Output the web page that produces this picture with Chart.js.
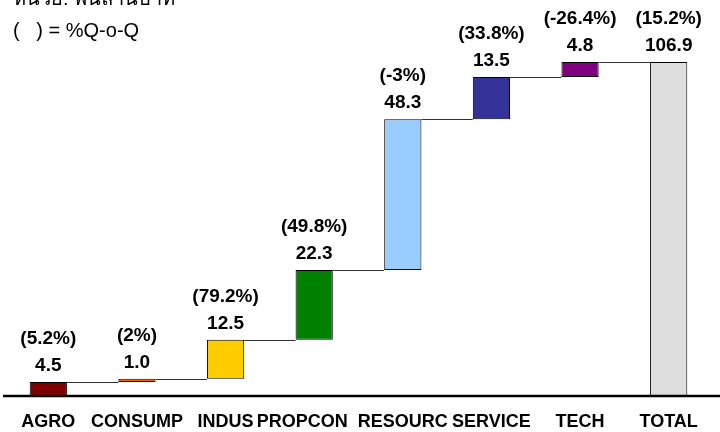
<!DOCTYPE html>
<html>
<head>
<meta charset="utf-8">
<script src="https://cdn.jsdelivr.net/npm/chart.js@4"></script>
<style>
  html, body { margin: 0; padding: 0; background: #fff; }
  #wrap { position: relative; width: 720px; height: 432px; }
</style>
</head>
<body>
<div id="wrap"><canvas id="waterfall" width="720" height="432"></canvas></div>
<script>
const categories = ['AGRO', 'CONSUMP', 'INDUS', 'PROPCON', 'RESOURC', 'SERVICE', 'TECH', 'TOTAL'];
const values = [4.5, 1.0, 12.5, 22.3, 48.3, 13.5, 4.8, 106.9];
const qoqLabels = ['(5.2%)', '(2%)', '(79.2%)', '(49.8%)', '(-3%)', '(33.8%)', '(-26.4%)', '(15.2%)'];
const barColors = ['#800000', '#FF6600', '#FFCC00', '#008000', '#99CCFF', '#333399', '#800080', '#DDDDDD'];

// floating bars: each step starts where the previous one ended, total starts at 0
const ranges = [];
let running = 0;
values.forEach(function (v, i) {
    if (i === values.length - 1) {
        ranges.push([0, v]);
    } else {
        ranges.push([running, running + v]);
        running += v;
    }
});

const valueFont = 'bold 19px "Liberation Sans", Arial, sans-serif';
const catFont = 'bold 18px "Liberation Sans", Arial, sans-serif';

const waterfallDecor = {
    id: 'waterfallDecor',
    afterDatasetsDraw(chart) {
        const ctx = chart.ctx;
        const x = chart.scales.x;
        const y = chart.scales.y;
        const meta = chart.getDatasetMeta(0);
        ctx.save();

        // connector lines between steps
        ctx.strokeStyle = '#333';
        ctx.lineWidth = 1;
        for (let i = 0; i < meta.data.length - 1; i++) {
            const a = meta.data[i];
            const b = meta.data[i + 1];
            const level = Math.round(y.getPixelForValue(ranges[i][1])) + 0.5;
            ctx.beginPath();
            ctx.moveTo(a.x + a.width / 2, level);
            ctx.lineTo(b.x - b.width / 2, level);
            ctx.stroke();
        }

        // baseline
        const base = y.getPixelForValue(0);
        ctx.strokeStyle = '#000';
        ctx.lineWidth = 2.5;
        ctx.beginPath();
        ctx.moveTo(3, base);
        ctx.lineTo(720, base);
        ctx.stroke();

        // value + %Q-o-Q labels
        ctx.fillStyle = '#000';
        ctx.font = valueFont;
        ctx.textAlign = 'center';
        ctx.textBaseline = 'middle';
        meta.data.forEach(function (bar, i) {
            const top = y.getPixelForValue(ranges[i][1]);
            ctx.fillText(values[i].toFixed(1), bar.x, top - 16);
            ctx.fillText(qoqLabels[i], bar.x, top - 43);
        });

        // category labels, nudged left when they would run into the next one
        ctx.font = catFont;
        categories.forEach(function (c, i) {
            let cx = x.getPixelForValue(i);
            const w = ctx.measureText(c).width;
            if (i < categories.length - 1) {
                const nx = x.getPixelForValue(i + 1);
                const nw = ctx.measureText(categories[i + 1]).width;
                const gap = (nx - nw / 2) - (cx + w / 2);
                if (gap < 2) cx -= 10 - gap;
            }
            ctx.fillText(c, cx, base + 26);
        });

        // header notes
        ctx.textAlign = 'left';
        ctx.textBaseline = 'alphabetic';
        ctx.font = '20px "Liberation Sans", Arial, sans-serif';
        ctx.fillText('หน่วย: พันล้านบาท', 13, 5);
        ctx.fillText('(   ) = %Q-o-Q', 13, 37);
        ctx.restore();
    }
};

new Chart(document.getElementById('waterfall').getContext('2d'), {
    type: 'bar',
    data: {
        labels: categories,
        datasets: [{
            data: ranges,
            backgroundColor: barColors,
            borderColor: '#000',
            borderWidth: 1,
            borderSkipped: false,
            categoryPercentage: 1,
            barPercentage: 0.42
        }]
    },
    options: {
        responsive: false,
        animation: false,
        layout: { padding: { left: 4, right: 7, top: 21, bottom: 36 } },
        plugins: {
            legend: { display: false },
            tooltip: { enabled: false }
        },
        scales: {
            x: { display: false },
            y: { display: false, min: 0, max: 120 }
        }
    },
    plugins: [waterfallDecor]
});
</script>
</body>
</html>
